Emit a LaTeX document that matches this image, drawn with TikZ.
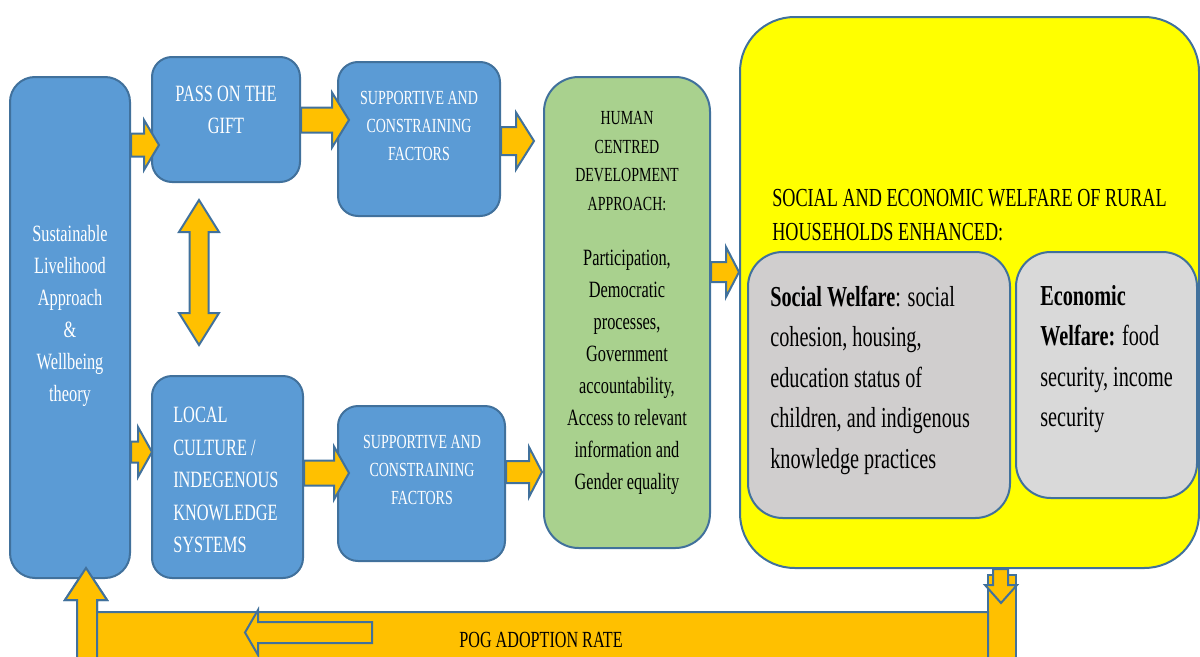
\documentclass[tikz,border=0pt]{standalone}
\usepackage{fontspec}
\setmainfont{Liberation Serif}[FakeStretch=0.7]
\usetikzlibrary{calc,positioning}

\definecolor{boxblue}{HTML}{5B9BD5}
\definecolor{edgeblue}{HTML}{41719C}
\definecolor{arrorange}{HTML}{FFC000}
\definecolor{hcdgreen}{HTML}{A9D18E}
\definecolor{welyellow}{HTML}{FFFF00}
\definecolor{socgrey}{HTML}{D0CECE}
\definecolor{ecogrey}{HTML}{D9D9D9}

\tikzset{
  panel/.style={draw=edgeblue, line width=1.5pt, inner sep=0pt},
  bluebox/.style={panel, fill=boxblue, rounded corners=15pt},
  fatarrow/.style={draw=edgeblue, fill=arrorange, line width=1.5pt, line join=miter},
  wtext/.style={text=white, align=center, inner sep=0pt},
  btext/.style={text=black, inner sep=0pt},
  bigfont/.style={font=\fontsize{17.5pt}{24pt}\selectfont},
  smallfont/.style={font=\fontsize{15pt}{21pt}\selectfont},
  welfont/.style={font=\fontsize{21.7pt}{30.4pt}\selectfont}
}

% block arrow pointing right: from, to, y, tip shift, shaft half, head half, head length
\newcommand\fatright[7]{%
  \draw[fatarrow] let \p1=(#1), \p2=($(#2 |- 0,#3)+(#4,0)$), \p3=($(\p2)+(-#7,0)$) in
    (\x1,\y2+#5*0.75pt) -- (\x3,\y2+#5*0.75pt) -- (\x3,\y2+#6*0.75pt) -- (\p2)
    -- (\x3,\y2-#6*0.75pt) -- (\x3,\y2-#5*0.75pt) -- (\x1,\y2-#5*0.75pt) -- cycle;}

\begin{document}
\begin{tikzpicture}[x=0.75pt,y=-0.75pt]
  \clip (0,0) rectangle (1200,657);

  % outcome panel
  \node[panel, fill=welyellow, rounded corners=41pt, minimum width=344.25pt, minimum height=413.25pt] (wel) at (969.5,292.5) {};
  \node[panel, fill=socgrey, rounded corners=26pt, minimum width=196.5pt, minimum height=199.5pt] (soc) at (879,385) {};
  \node[panel, fill=ecogrey, rounded corners=26pt, minimum width=135.75pt, minimum height=184.5pt] (eco) at (1106.5,375) {};
  \node[btext, anchor=west, align=left, font=\fontsize{19.5pt}{26pt}\selectfont] (weltxt) at (772,215)
    {SOCIAL AND ECONOMIC WELFARE OF RURAL\\HOUSEHOLDS ENHANCED:};
  \node[btext, anchor=west, align=left, welfont] (soctxt) at (770,380)
    {\textbf{Social Welfare}: social\\cohesion, housing,\\education status of\\children, and indigenous\\knowledge practices};
  \node[btext, anchor=west, align=left, welfont] (ecotxt) at (1040,359)
    {\textbf{Economic}\\\textbf{Welfare:} food\\security, income\\security};

  % feedback band
  \draw[fatarrow] (988,575) rectangle (1016,700);
  \draw[fatarrow] (993,569) -- (1008,569) -- (1008,585) -- (1017,585) -- (1001,603) -- (985,585) -- (993,585) -- cycle;
  \draw[fatarrow] (77,700) -- (77,600) -- (65,600) -- (86,568) -- (107,600) -- (97,600) -- (97,612)
    -- (988,612) -- (988,700) -- cycle;
  \draw[edgeblue, line width=1.5pt] (372,622) -- (258,622) -- (258,610) -- (245,632.5) -- (258,655)
    -- (258,643) -- (372,643) -- cycle;
  \node[btext, font=\fontsize{17.3pt}{20pt}\selectfont] (pog) at (541,640) {POG ADOPTION RATE};

  % left column
  \node[bluebox, rounded corners=18.75pt, minimum width=90pt, minimum height=375.75pt] (sla) at (70,327.5) {};
  \node[wtext, bigfont] (slatxt) at (70,316) {Sustainable\\Livelihood\\Approach\\\&\\Wellbeing\\theory};
  \draw[fatarrow] (77,657) -- (77,600) -- (65,600) -- (86,568) -- (107,600) -- (97,600) -- (97,657);

  \node[bluebox, minimum width=111pt, minimum height=93.75pt] (pass) at (226,119.5) {};
  \node[wtext, bigfont] (passtxt) at (226,110) {PASS ON THE\\GIFT};
  \node[bluebox, minimum width=113.25pt, minimum height=151.5pt] (local) at (227.5,477) {};
  \node[wtext, bigfont, align=left, anchor=west, font=\fontsize{17.5pt}{24.4pt}\selectfont] (localtxt) at (173,480)
    {LOCAL\\CULTURE /\\INDEGENOUS\\KNOWLEDGE\\SYSTEMS};

  \node[bluebox, minimum width=121.5pt, minimum height=115.5pt] (sup1) at (419,139) {};
  \node[wtext, smallfont] (sup1txt) at (419,126) {SUPPORTIVE AND\\CONSTRAINING\\FACTORS};
  \node[bluebox, minimum width=125.25pt, minimum height=116.25pt] (sup2) at (421.5,483.5) {};
  \node[wtext, smallfont] (sup2txt) at (422,470) {SUPPORTIVE AND\\CONSTRAINING\\FACTORS};

  \node[panel, fill=hcdgreen, rounded corners=26pt, minimum width=124.5pt, minimum height=353.25pt] (hcd) at (627,312.5) {};
  \node[btext, align=center, smallfont, font=\fontsize{15pt}{21.4pt}\selectfont] (hcdtop) at (627,161)
    {HUMAN\\CENTRED\\DEVELOPMENT\\APPROACH:};
  \node[btext, align=center, bigfont] (hcdlist) at (627,372)
    {Participation,\\Democratic\\processes,\\Government\\accountability,\\Access to relevant\\information and\\Gender equality};

  % connectors
  \fatright{sla.east}{pass.west}{145}{8}{11.5}{25}{15}
  \fatright{pass.east}{sup1.west}{120}{12}{12.5}{27.5}{17}
  \fatright{sup1.east}{hcd.west}{141}{-9}{14}{28.5}{18}
  \fatright{sla.east}{local.west}{452}{1}{10.5}{25}{14}
  \fatright{local.east}{sup2.west}{473}{12}{12.5}{26.5}{15}
  \fatright{sup2.east}{hcd.west}{472}{-1}{11}{25}{13}
  \fatright{hcd.east}{wel.west}{272}{0}{10}{25}{13}
  \draw[fatarrow] (199,200) -- (219,232) -- (208.5,232) -- (208.5,313) -- (219,313) -- (199,345)
    -- (179,313) -- (189.5,313) -- (189.5,232) -- (179,232) -- cycle;
\end{tikzpicture}
\end{document}
